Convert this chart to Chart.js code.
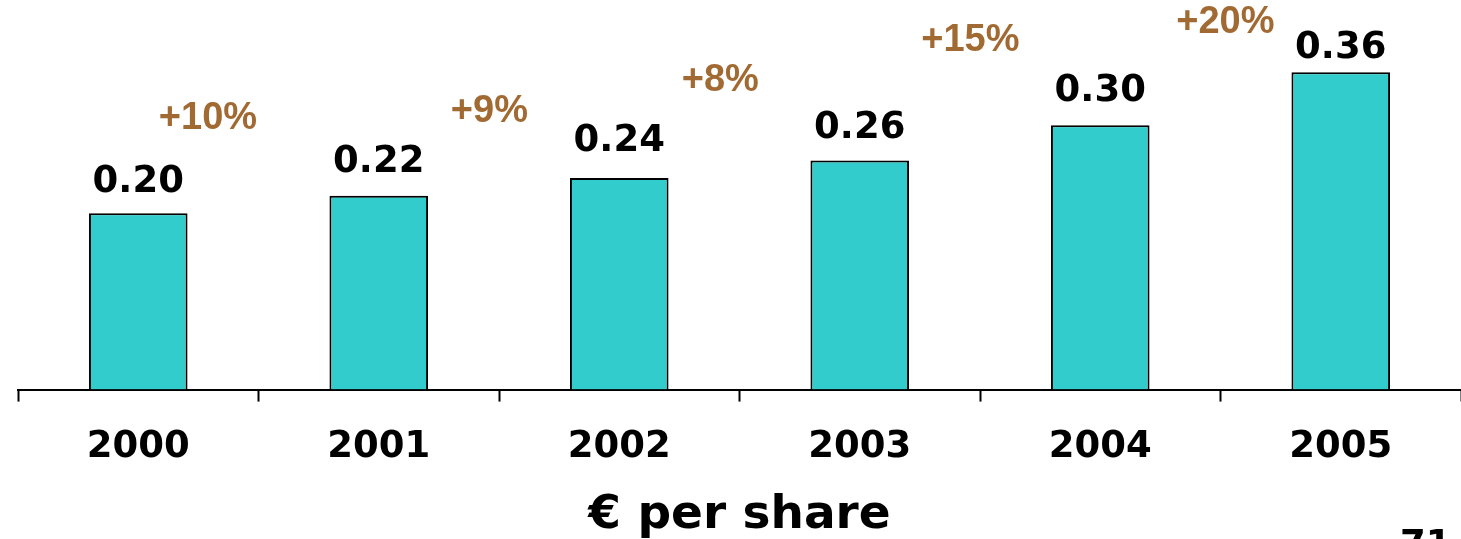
<!DOCTYPE html>
<html>
<head>
<meta charset="utf-8">
<script src="https://cdn.jsdelivr.net/npm/chart.js@4/dist/chart.umd.min.js"></script>
<style>
html,body{margin:0;padding:0;background:#fff;}
#wrap{width:1461px;height:539px;position:relative;}
</style>
</head>
<body>
<div id="wrap"><canvas id="c" width="1461" height="539"></canvas></div>
<script>
// ---- data ----
const categories = ['2000', '2001', '2002', '2003', '2004', '2005'];
const dividends = [0.20, 0.22, 0.24, 0.26, 0.30, 0.36];
const valueLabels = ['0.20', '0.22', '0.24', '0.26', '0.30', '0.36'];
const growthLabels = ['+10%', '+9%', '+8%', '+15%', '+20%'];
const axisTitle = '€ per share';
const pageNumber = '71';

// ---- label placement (category units / value units) ----
const growthAnchorX = [0.29, 1.46, 2.42, 3.46, 4.52];
const growthAnchorY = [0.307, 0.316, 0.351, 0.396, 0.416];
const valueLabelLift = [31, 33, 37, 32, 34, 24];

const BOLD = 'bold 37px "DejaVu Sans"';

const labelPlugin = {
  id: 'labels',
  afterDatasetsDraw(chart) {
    const ctx = chart.ctx;
    const meta = chart.getDatasetMeta(0);
    const xs = chart.scales.x, ys = chart.scales.y;
    ctx.save();
    ctx.textAlign = 'center';
    ctx.textBaseline = 'middle';
    ctx.font = BOLD;
    ctx.fillStyle = '#000';
    meta.data.forEach((bar, i) => {
      ctx.fillText(valueLabels[i], bar.x, bar.y - valueLabelLift[i]);
    });
    ctx.font = 'bold 38px "Liberation Sans"';
    ctx.fillStyle = '#A26A33';
    growthLabels.forEach((t, i) => {
      const x = xs.getPixelForValue(growthAnchorX[i]);
      const y = ys.getPixelForValue(growthAnchorY[i]);
      ctx.fillText(t, x, y);
    });
    ctx.font = BOLD;
    ctx.fillStyle = '#000';
    ctx.textAlign = 'left';
    ctx.textBaseline = 'top';
    ctx.fillText(pageNumber, 1400, 528);
    ctx.restore();
  }
};

new Chart(document.getElementById('c'), {
  type: 'bar',
  data: {
    labels: categories,
    datasets: [{
      data: dividends,
      backgroundColor: '#33CCCC',
      borderColor: '#000',
      borderWidth: 2,
      borderSkipped: 'bottom',
      barPercentage: 0.41,
      categoryPercentage: 1.0
    }]
  },
  options: {
    responsive: false,
    animation: false,
    layout: { padding: { left: 18, right: 0, top: 0, bottom: 0 } },
    plugins: { legend: { display: false }, tooltip: { enabled: false } },
    scales: {
      x: {
        grid: {
          offset: true,
          drawOnChartArea: false,
          drawTicks: true,
          tickLength: 12,
          tickColor: '#000',
          tickWidth: 2,
          color: '#000'
        },
        border: { display: true, color: '#000', width: 2 },
        ticks: {
          color: '#000',
          font: { family: 'DejaVu Sans', size: 37, weight: 'bold' },
          padding: 24,
          maxRotation: 0,
          autoSkip: false
        },
        title: {
          display: true,
          text: axisTitle,
          color: '#000',
          font: { family: 'DejaVu Sans', size: 47, weight: 'bold', lineHeight: 1.0 },
          padding: { top: -2, bottom: 0 }
        }
      },
      y: {
        display: false,
        min: 0,
        max: 0.442
      }
    }
  },
  plugins: [labelPlugin]
});
</script>
</body>
</html>
